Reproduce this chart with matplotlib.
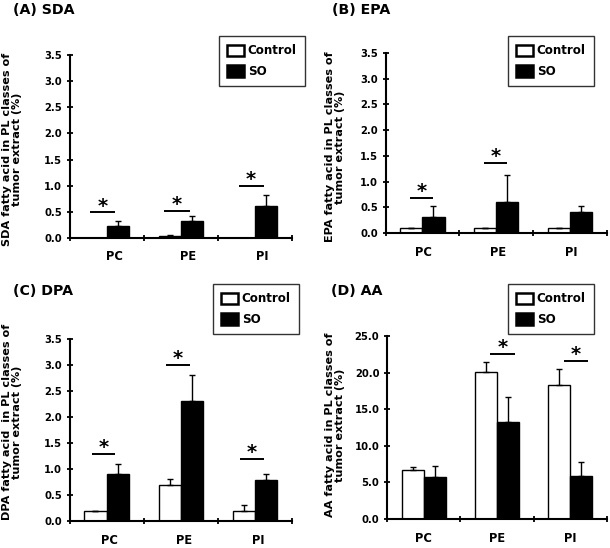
import matplotlib
matplotlib.use("Agg")
import matplotlib.pyplot as plt
from matplotlib.patches import Patch
import numpy as np

plt.rcParams['font.family'] = ['DejaVu Sans']
plt.rcParams['font.weight'] = 'bold'

categories = ['PC', 'PE', 'PI']

# (A) SDA
sda_control = [0.0, 0.04, 0.0]
sda_control_err = [0.0, 0.02, 0.0]
sda_so = [0.22, 0.32, 0.62]
sda_so_err = [0.10, 0.10, 0.20]
sda_sig_idx = [0, 1, 2]
sda_sig_y = [0.49, 0.52, 1.00]

# (B) EPA
epa_control = [0.10, 0.10, 0.10]
epa_control_err = [0.0, 0.0, 0.0]
epa_so = [0.32, 0.61, 0.41]
epa_so_err = [0.20, 0.51, 0.11]
epa_sig_idx = [0, 1]
epa_sig_y = [0.68, 1.37]

# (C) DPA
dpa_control = [0.20, 0.70, 0.20]
dpa_control_err = [0.0, 0.10, 0.10]
dpa_so = [0.91, 2.30, 0.79]
dpa_so_err = [0.19, 0.50, 0.11]
dpa_sig_idx = [0, 1, 2]
dpa_sig_y = [1.29, 3.00, 1.20]

# (D) AA
aa_control = [6.7, 20.1, 18.3]
aa_control_err = [0.4, 1.3, 2.2]
aa_so = [5.8, 13.2, 5.9]
aa_so_err = [1.4, 3.5, 1.9]
aa_sig_idx = [1, 2]
aa_sig_y = [22.6, 21.6]

W, H = 610, 548
fig = plt.figure(figsize=(W / 100, H / 100), dpi=100)


def fx(px):
    return px / W


def fy(py):
    return 1 - py / H


panels = [
    dict(title='(A) SDA', ylabel='SDA fatty acid in PL classes of\ntumor extract (%)',
         box=(69.5, 292, 55, 238), ymax=3.5, step=0.5,
         ctrl=sda_control, ctrl_err=sda_control_err, so=sda_so, so_err=sda_so_err,
         sig_idx=sda_sig_idx, sig_y=sda_sig_y, span=(-0.22, 0.12), lab_shift=0.1,
         title_xy=(13, 10), ylab_xy=(12, 149), leg=(219, 36)),
    dict(title='(B) EPA', ylabel='EPA fatty acid in PL classes of\ntumor extract (%)',
         box=(385.5, 607, 53, 233), ymax=3.5, step=0.5,
         ctrl=epa_control, ctrl_err=epa_control_err, so=epa_so, so_err=epa_so_err,
         sig_idx=epa_sig_idx, sig_y=epa_sig_y, span=(-0.17, 0.15), lab_shift=0.02,
         title_xy=(332, 10), ylab_xy=(335, 147), leg=(508, 36)),
    dict(title='(C) DPA', ylabel='DPA fatty acid  in PL classes of\ntumor extract (%)',
         box=(69.5, 292, 339, 521), ymax=3.5, step=0.5,
         ctrl=dpa_control, ctrl_err=dpa_control_err, so=dpa_so, so_err=dpa_so_err,
         sig_idx=dpa_sig_idx, sig_y=dpa_sig_y, span=(-0.20, 0.12), lab_shift=0.04,
         title_xy=(13, 291), ylab_xy=(12, 422), leg=(213, 284)),
    dict(title='(D) AA', ylabel='AA fatty acid in PL classes of\ntumor extract (%)',
         box=(387, 607, 336, 519), ymax=25.0, step=5.0,
         ctrl=aa_control, ctrl_err=aa_control_err, so=aa_so, so_err=aa_so_err,
         sig_idx=aa_sig_idx, sig_y=aa_sig_y, span=(-0.09, 0.24), lab_shift=0.0,
         title_xy=(331, 291), ylab_xy=(335, 425), leg=(508, 284)),
]

bw = 0.30
x = np.arange(len(categories))

for p in panels:
    l, r, t, b = p['box']
    ax = fig.add_axes([fx(l), fy(b), fx(r) - fx(l), fy(t) - fy(b)])
    ax.bar(x - bw / 2, p['ctrl'], bw, color='white', edgecolor='black', linewidth=1.0, zorder=2)
    ax.bar(x + bw / 2, p['so'], bw, color='black', edgecolor='black', linewidth=1.0, zorder=2)
    ax.errorbar(x - bw / 2, p['ctrl'], yerr=[np.zeros(3), p['ctrl_err']], fmt='none',
                ecolor='black', elinewidth=1.0, capsize=2.5, capthick=1.0, zorder=3)
    ax.errorbar(x + bw / 2, p['so'], yerr=[np.zeros(3), p['so_err']], fmt='none',
                ecolor='black', elinewidth=1.0, capsize=2.5, capthick=1.0, zorder=3)
    for i, yv in zip(p['sig_idx'], p['sig_y']):
        x0, x1 = i + p['span'][0], i + p['span'][1]
        ax.plot([x0, x1], [yv, yv], color='black', lw=1.4, solid_capstyle='butt')
        ax.annotate('*', xy=((x0 + x1) / 2, yv), xytext=(0, 0.5), textcoords='offset points',
                    ha='center', va='baseline', fontsize=14, fontweight='bold')
    ax.set_xlim(-0.5, 2.5)
    ax.set_ylim(0, p['ymax'])
    ax.set_yticks(np.arange(0, p['ymax'] + 1e-9, p['step']))
    ax.set_yticklabels([f'{v:.1f}' for v in np.arange(0, p['ymax'] + 1e-9, p['step'])])
    ax.set_xticks([-0.5, 0.5, 1.5, 2.5])
    ax.set_xticklabels([])
    ax.set_xticks(x + p['lab_shift'], minor=True)
    ax.set_xticklabels(categories, minor=True)
    ax.tick_params(axis='x', which='minor', length=0, pad=9, labelsize=8.3)
    ax.tick_params(axis='x', which='major', direction='inout', length=5, width=1.3)
    ax.tick_params(axis='y', which='major', direction='inout', length=5, width=1.3, pad=3, labelsize=7.2)
    for lab in ax.get_xticklabels(minor=True) + ax.get_yticklabels():
        lab.set_fontweight('bold')
    for s in ['top', 'right']:
        ax.spines[s].set_visible(False)
    for s in ['left', 'bottom']:
        ax.spines[s].set_linewidth(1.5)
    ax.patch.set_alpha(0)

    fig.text(fx(p['title_xy'][0]), fy(p['title_xy'][1]), p['title'], ha='left', va='center',
             fontsize=10.2, fontweight='bold')
    fig.text(fx(p['ylab_xy'][0]), fy(p['ylab_xy'][1]), p['ylabel'], rotation=90,
             ha='center', va='center', multialignment='center', fontsize=8.1, fontweight='bold',
             linespacing=1.0)

    handles = [Patch(facecolor='white', edgecolor='black', linewidth=1.8),
               Patch(facecolor='black', edgecolor='black', linewidth=1.8)]
    leg = ax.legend(handles, ['Control', 'SO'], loc='upper left',
                    bbox_to_anchor=(fx(p['leg'][0]), fy(p['leg'][1])),
                    bbox_transform=fig.transFigure, fancybox=False, frameon=True,
                    edgecolor='#333333', framealpha=1, fontsize=8.6,
                    handlelength=1.4, handleheight=1.1, handletextpad=0.3,
                    borderpad=0.7, labelspacing=0.65, borderaxespad=0)
    leg.get_frame().set_linewidth(1.0)
    for txt in leg.get_texts():
        txt.set_fontweight('bold')

fig.savefig('out.png', dpi=100)
